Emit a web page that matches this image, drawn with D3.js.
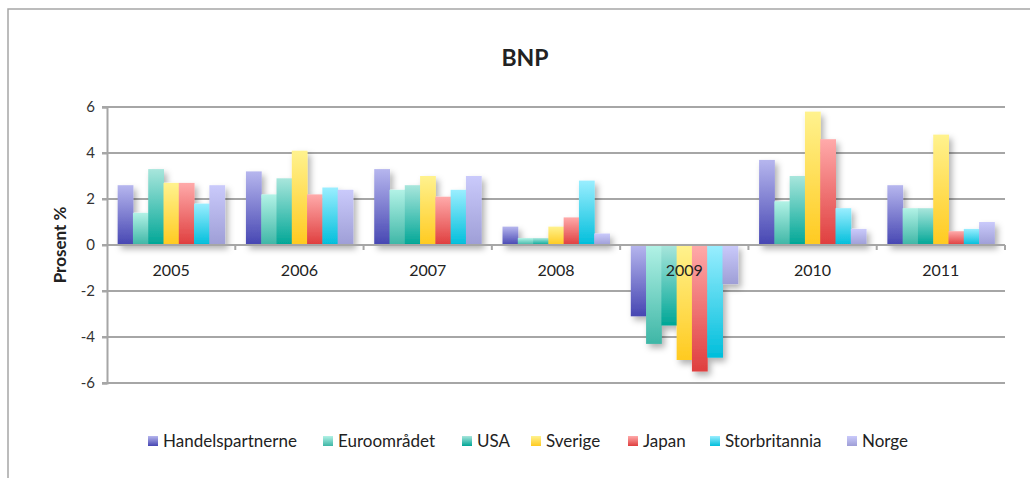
<!DOCTYPE html>
<html>
<head>
<meta charset="utf-8">
<script src="https://cdn.jsdelivr.net/npm/d3@7"></script>
<style>
  html, body { margin: 0; padding: 0; background: #fff; }
  svg { display: block; font-family: Lato, "Open Sans", sans-serif; }
</style>
</head>
<body>
<svg id="chart" width="1030" height="479"></svg>
<script>
// BNP – annual GDP growth, per cent
const years = ["2005", "2006", "2007", "2008", "2009", "2010", "2011"];
const handelspartnerne = [2.6, 3.2, 3.3, 0.8, -3.1, 3.7, 2.6];
const euroomradet      = [1.4, 2.2, 2.4, 0.3, -4.3, 1.9, 1.6];
const usa              = [3.3, 2.9, 2.6, 0.3, -3.5, 3.0, 1.6];
const sverige          = [2.7, 4.1, 3.0, 0.8, -5.0, 5.8, 4.8];
const japan            = [2.7, 2.2, 2.1, 1.2, -5.5, 4.6, 0.6];
const storbritannia    = [1.8, 2.5, 2.4, 2.8, -4.9, 1.6, 0.7];
const norge            = [2.6, 2.4, 3.0, 0.5, -1.7, 0.7, 1.0];
const yTicks = [-6, -4, -2, 0, 2, 4, 6];

const series = [
  { name: "Handelspartnerne", values: handelspartnerne, top: "#b6b6ee", bottom: "#4646b2" },
  { name: "Euroområdet",      values: euroomradet,      top: "#b2f2e6", bottom: "#3eb6a6" },
  { name: "USA",              values: usa,              top: "#a8e6dc", bottom: "#00a696" },
  { name: "Sverige",          values: sverige,          top: "#fff28e", bottom: "#ffca20" },
  { name: "Japan",            values: japan,            top: "#ffaaaa", bottom: "#df3e3e" },
  { name: "Storbritannia",    values: storbritannia,    top: "#9aeeff", bottom: "#00bedb" },
  { name: "Norge",            values: norge,            top: "#cacafb", bottom: "#9e9ed6" }
];

const svg = d3.select("#chart");
const defs = svg.append("defs");

series.forEach((s, i) => {
  const g = defs.append("linearGradient")
    .attr("id", "grad" + i)
    .attr("x1", 0).attr("y1", 0).attr("x2", 0).attr("y2", 1);
  g.append("stop").attr("offset", "0%").attr("stop-color", s.top);
  g.append("stop").attr("offset", "100%").attr("stop-color", s.bottom);
});

const shadow = defs.append("filter").attr("id", "barShadow")
  .attr("x", "-20%").attr("y", "-20%").attr("width", "160%").attr("height", "160%");
shadow.append("feDropShadow")
  .attr("dx", 3).attr("dy", 4).attr("stdDeviation", 3)
  .attr("flood-color", "#000").attr("flood-opacity", 0.3);

// chart frame
svg.append("path")
  .attr("d", "M8,478 L8,9 L1030,9")
  .attr("fill", "none").attr("stroke", "#a6a6a6").attr("stroke-width", 1.5);

// title
svg.append("text")
  .attr("x", 525).attr("y", 66)
  .attr("text-anchor", "middle")
  .attr("font-size", 23).attr("font-weight", "bold").attr("fill", "#222")
  .text("BNP");

const plotLeft = 107, plotRight = 1005;
const y = d3.scaleLinear().domain([-6, 6]).range([383, 107]);
const x0 = d3.scaleBand().domain(years).range([plotLeft, plotRight])
  .paddingInner(0.166).paddingOuter(0.083);
const x1 = d3.scaleBand().domain(d3.range(series.length)).range([0, x0.bandwidth()]).padding(0);

// gridlines
svg.append("g").selectAll("line").data(yTicks).join("line")
  .attr("x1", plotLeft - 5).attr("x2", plotRight)
  .attr("y1", d => y(d)).attr("y2", d => y(d))
  .attr("stroke", "#a6a6a6").attr("stroke-width", 2);

// y axis
const yAxis = svg.append("g")
  .attr("transform", `translate(${plotLeft},0)`)
  .call(d3.axisLeft(y).tickValues(yTicks).tickSize(5).tickPadding(7).tickFormat(d => String(d)));
yAxis.select(".domain").attr("stroke", "#a6a6a6").attr("stroke-width", 2);
yAxis.selectAll(".tick line").attr("stroke", "#a6a6a6").attr("stroke-width", 2);
yAxis.selectAll(".tick text").attr("font-size", 15).attr("fill", "#333")
  .attr("font-family", "Lato, sans-serif");

// y axis title
svg.append("text")
  .attr("transform", `translate(66,${y(0)}) rotate(-90)`)
  .attr("text-anchor", "middle")
  .attr("font-size", 17).attr("font-weight", "bold").attr("fill", "#222")
  .text("Prosent %");

// bars
const groups = svg.append("g").selectAll("g").data(years).join("g")
  .attr("transform", d => `translate(${x0(d)},0)`)
  .attr("filter", "url(#barShadow)");

groups.selectAll("rect")
  .data((yr, j) => series.map((s, i) => ({ i, v: s.values[j] })))
  .join("rect")
  .attr("x", d => x1(d.i))
  .attr("width", x1.bandwidth() + 0.5)
  .attr("y", d => y(Math.max(0, d.v)))
  .attr("height", d => Math.abs(y(d.v) - y(0)))
  .attr("fill", d => `url(#grad${d.i})`);

// x axis along zero with category boundary ticks
const xAxisG = svg.append("g");
xAxisG.append("line")
  .attr("x1", plotLeft).attr("x2", plotRight)
  .attr("y1", y(0)).attr("y2", y(0))
  .attr("stroke", "#a6a6a6").attr("stroke-width", 2);
const bounds = years.map(d => x0(d) - x0.step() * x0.paddingInner() / 2).slice(1).concat([plotRight]);
xAxisG.selectAll("line.tk").data(bounds).join("line").attr("class", "tk")
  .attr("x1", d => d).attr("x2", d => d)
  .attr("y1", y(0)).attr("y2", y(0) + 5)
  .attr("stroke", "#a6a6a6").attr("stroke-width", 2);
xAxisG.selectAll("text").data(years).join("text")
  .attr("x", d => x0(d) + x0.bandwidth() / 2)
  .attr("y", y(0) + 31)
  .attr("text-anchor", "middle")
  .attr("font-size", 16).attr("fill", "#222")
  .text(d => d);

// legend
const legendX = [148, 323, 462, 531, 628, 710, 847];
const legend = svg.append("g").selectAll("g").data(series).join("g")
  .attr("transform", (d, i) => `translate(${legendX[i]},436)`);
legend.append("rect")
  .attr("width", 10).attr("height", 10)
  .attr("fill", (d, i) => `url(#grad${i})`);
legend.append("text")
  .attr("x", 15).attr("y", 11)
  .attr("font-size", 17).attr("fill", "#222")
  .text(d => d.name);
</script>
</body>
</html>
